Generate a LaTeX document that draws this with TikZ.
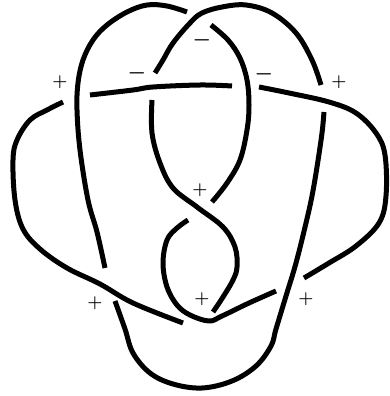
\documentclass[tikz,border=0pt]{standalone}
\begin{document}
\begin{tikzpicture}[x=1pt,y=-1pt,
  knot/.style={line width=5pt, line cap=butt, line join=round},
  sgn/.style={inner sep=0pt, font=\fontsize{17}{17}\selectfont\boldmath},
  msgn/.style={inner sep=0pt, font=\fontsize{21}{21}\selectfont\boldmath}]
\useasboundingbox (0,0) rectangle (389,396);
% Arc A
\draw[knot] plot[smooth, tension=0.6] coordinates {(321,85) (312,60) (296,33) (272,13) (246,5) (222,7) (202,13) (190,23) (173,43) (163,60) (155,73)};
% Arc B
\draw[knot] plot[smooth, tension=0.6] coordinates {(152,100) (152,133) (160,163) (173,188) (197,207) (223,227) (235,247) (237,267) (233,280) (223,297) (213,312)};
% Arc C
\draw[knot] plot[smooth, tension=0.6] coordinates {(183,323) (133,303) (100,284) (67,268) (40,249) (23,229) (15,200) (13,160) (17,140) (30,120) (47,110) (63,102)};
% Arc D
\draw[knot] plot[smooth, tension=0.6] coordinates {(90,95) (133,90) (153,87) (200,85) (232,86)};
% Arc E
\draw[knot] plot[smooth, tension=0.6] coordinates {(259,87) (289,93) (329,102) (356,113) (376,133) (385,155) (386,196) (379,223) (356,246) (329,263) (304,278)};
% Arc F
\draw[knot] plot[smooth, tension=0.6] coordinates {(276,291) (249,303) (222,316) (209,321) (190,315) (177,305) (167,287) (163,263) (167,240) (177,228) (188,220)};
% Arc G
\draw[knot] plot[smooth, tension=0.6] coordinates {(212,202) (227,183) (240,160) (247,130) (249,105) (247,80) (240,58) (228,40) (211,25)};
% Arc H
\draw[knot] plot[smooth, tension=0.6] coordinates {(187,12) (167,6) (147,5) (127,12) (107,25) (93,40) (83,60) (78,83) (77,110) (80,150) (88,200) (97,232) (105,268)};
% Arc I
\draw[knot] plot[smooth, tension=0.6] coordinates {(115,301) (125,329) (133,353) (150,373) (173,384) (202,388) (232,381) (256,366) (271,346) (276,329) (286,296) (296,263) (306,223) (312,196) (317,167) (322,133) (324,112)};
% signs
\node[sgn] (s1) at (60,82) {$+$};
\node[msgn] (s2) at (137,73) {$-$};
\node[msgn] (s3) at (202,40) {$-$};
\node[msgn] (s4) at (264,74) {$-$};
\node[sgn] (s5) at (339,82) {$+$};
\node[sgn] (s6) at (200,190) {$+$};
\node[sgn] (s7) at (95,303) {$+$};
\node[sgn] (s8) at (202,299) {$+$};
\node[sgn] (s9) at (306,299) {$+$};
\end{tikzpicture}
\end{document}
